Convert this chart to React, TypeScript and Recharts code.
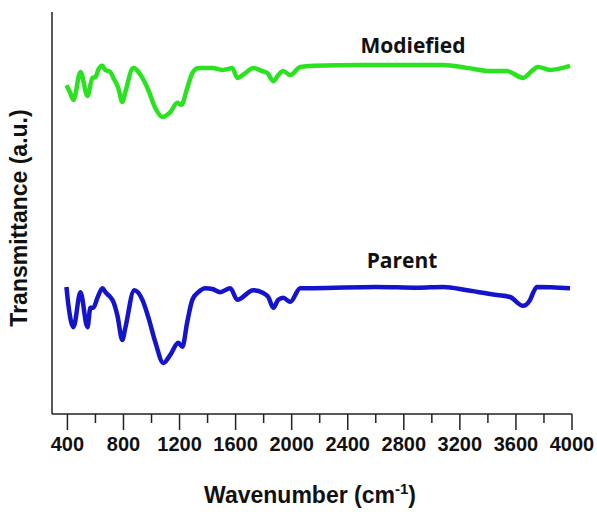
import { LineChart, Line, XAxis, YAxis } from "recharts";

// FTIR spectra, transmittance in arbitrary units (0-100 span of the plot)
const modifiedWavenumber = [
  393, 420, 443, 493, 543, 578, 600, 620, 650, 670, 706, 728, 763, 792, 813, 870, 935, 977, 1027, 1077,
  1134, 1184, 1213, 1255, 1291, 1334, 1434, 1505, 1540, 1576, 1612, 1669, 1726, 1790, 1826, 1869, 1904,
  1940, 1990, 2061, 2154, 2500, 3080, 3252, 3415, 3537, 3651, 3722, 3758, 3843, 3986,
];
const modifiedT = [
  81.8, 79.9, 78.1, 85.1, 79.1, 83.6, 83.8, 85.6, 86.6, 85.6, 85.1, 83.6, 81.1, 77.6, 80.1, 86.1, 83.6, 80.6,
  76.1, 73.9, 75.1, 77.4, 76.9, 81.1, 84.8, 86.1, 86.1, 85.6, 85.8, 86.1, 83.6, 84.8, 86.1, 85.3, 84.8, 82.8,
  84.3, 85.3, 84.3, 86.3, 86.6, 86.8, 86.8, 86.1, 85.3, 85.3, 83.6, 85.6, 86.3, 85.6, 86.6,
];

const parentWavenumber = [
  393, 407, 443, 493, 543, 564, 585, 614, 650, 671, 706, 728, 756, 792, 813, 877, 935, 977, 1027, 1084,
  1134, 1191, 1220, 1255, 1291, 1334, 1384, 1434, 1490, 1562, 1612, 1726, 1797, 1833, 1869, 1904, 1940,
  1990, 2061, 2154, 2600, 2900, 3080, 3252, 3465, 3558, 3651, 3701, 3722, 3750, 3986,
];
const parentT = [
  31.6, 27.1, 21.6, 30.3, 21.6, 26.4, 26.4, 28.9, 31.3, 30.3, 29.1, 27.9, 24.6, 18.4, 21.4, 30.8, 28.4, 24.1,
  17.9, 12.7, 14.7, 17.7, 16.7, 22.9, 28.4, 30.3, 31.3, 31.1, 30.3, 31.3, 28.4, 30.8, 30.1, 29.1, 26.4, 28.4,
  28.9, 27.9, 31.3, 31.3, 31.6, 31.4, 31.6, 30.8, 29.6, 29.1, 26.9, 28.4, 30.1, 31.6, 31.3,
];

const xTicks = [
  400, 600, 800, 1000, 1200, 1400, 1600, 1800, 2000, 2200, 2400, 2600, 2800, 3000, 3200, 3400, 3600, 3800, 4000,
];

const modifiedData = modifiedWavenumber.map((wn, i) => ({ wn, t: modifiedT[i] }));
const parentData = parentWavenumber.map((wn, i) => ({ wn, t: parentT[i] }));

const AXIS = "#222";
const FONT = "'Liberation Sans', Arial, sans-serif";

const WaveTick = (props: any) => {
  const { x, y, payload } = props;
  const major = payload.value % 400 === 0;
  return (
    <g>
      <line x1={x} x2={x} y1={y} y2={y + (major ? 16 : 9)} stroke={AXIS} strokeWidth={1.5} />
      {major && (
        <text x={x} y={y + 37} textAnchor="middle" fontFamily={FONT} fontWeight="bold" fontSize={20} fill="#111">
          {payload.value}
        </text>
      )}
    </g>
  );
};

export default function App() {
  return (
    <div style={{ position: "absolute", left: 0, top: 0, width: 597, height: 512, background: "#fff" }}>
      <LineChart width={597} height={512} margin={{ top: 12, right: 25, bottom: 0, left: 0 }}>
        <XAxis
          type="number"
          dataKey="wn"
          domain={[290, 4000]}
          ticks={xTicks}
          interval={0}
          tick={<WaveTick />}
          tickLine={false}
          tickSize={0}
          tickMargin={0}
          height={98}
          axisLine={{ stroke: AXIS, strokeWidth: 1.5 }}
          allowDataOverflow
        />
        <YAxis
          type="number"
          domain={[0, 100]}
          width={52}
          tick={false}
          tickLine={false}
          axisLine={{ stroke: AXIS, strokeWidth: 1.5 }}
        />
        <Line
          data={modifiedData}
          dataKey="t"
          type="monotone"
          stroke="#2ae21f"
          strokeWidth={4.5}
          dot={false}
          isAnimationActive={false}
        />
        <Line
          data={parentData}
          dataKey="t"
          type="monotone"
          stroke="#1414cc"
          strokeWidth={4.5}
          dot={false}
          isAnimationActive={false}
        />
      </LineChart>
      <div
        style={{
          position: "absolute", left: 413, top: 31, transform: "translateX(-50%)",
          fontFamily: "'Open Sans', sans-serif", fontWeight: 700, fontSize: 21, color: "#111", whiteSpace: "nowrap",
        }}
      >
        Modiefied
      </div>
      <div
        style={{
          position: "absolute", left: 402, top: 246, transform: "translateX(-50%)",
          fontFamily: "'Open Sans', sans-serif", fontWeight: 700, fontSize: 21, color: "#111", whiteSpace: "nowrap",
        }}
      >
        Parent
      </div>
      <div
        style={{
          position: "absolute", left: 310, top: 480, transform: "translateX(-50%)",
          fontFamily: FONT, fontWeight: 700, fontSize: 23, color: "#111", whiteSpace: "nowrap",
        }}
      >
        Wavenumber (cm<sup style={{ fontSize: 15 }}>-1</sup>)
      </div>
      <div
        style={{
          position: "absolute", left: 19, top: 218, transform: "translate(-50%, -50%) rotate(-90deg)",
          fontFamily: FONT, fontWeight: 700, fontSize: 23, color: "#111", whiteSpace: "nowrap",
        }}
      >
        Transmittance (a.u.)
      </div>
    </div>
  );
}
